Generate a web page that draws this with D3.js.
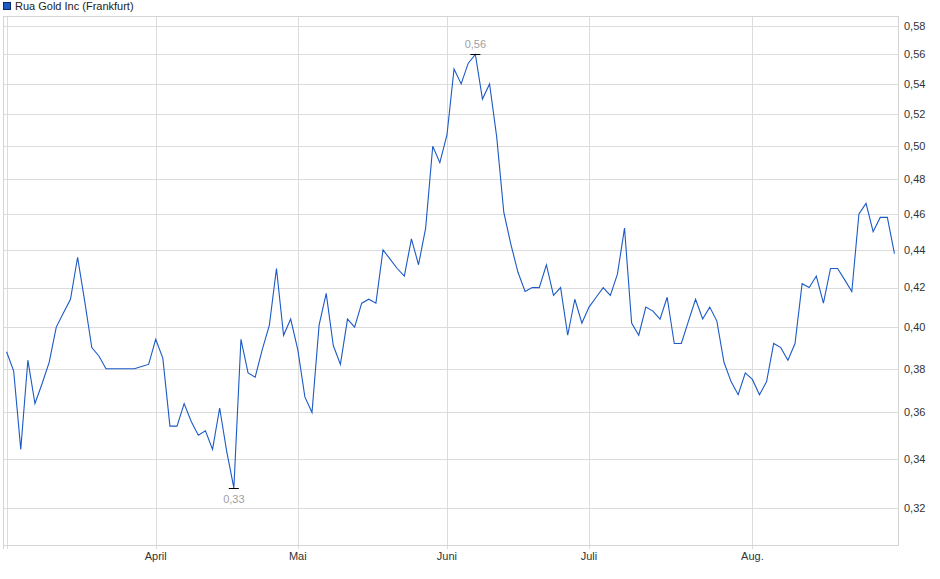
<!DOCTYPE html>
<html>
<head>
<meta charset="utf-8">
<script src="https://cdn.jsdelivr.net/npm/d3@7"></script>
<style>
  body { margin: 0; background: #fff; }
  svg { display: block; font-family: "Liberation Sans", Arial, sans-serif; }
</style>
</head>
<body>
<script>
// Rua Gold Inc, Frankfurt, daily closes (one per trading day, 03.03.2025 - 29.08.2025)
var seriesName = "Rua Gold Inc (Frankfurt)";
var firstDay = "2025-03-03", lastDay = "2025-08-29";
var holidays = ["2025-04-18", "2025-04-21", "2025-05-01", "2025-06-09"];
var monthLabels = [null, null, "März", "April", "Mai", "Juni", "Juli", "Aug.", "Sep."];
var showMonthLabel = [false, true, true, true, true, true]; // März is not labelled
var yTicks = [0.32, 0.34, 0.36, 0.38, 0.40, 0.42, 0.44, 0.46, 0.48, 0.50, 0.52, 0.54, 0.56, 0.58];

var prices = [
  0.388, 0.379, 0.344, 0.384, 0.364, 0.373, 0.383, 0.400, 0.407, 0.414,
  0.436, 0.413, 0.390, 0.386, 0.380, 0.380, 0.380, 0.380, 0.380, 0.381,
  0.382, 0.394, 0.385, 0.354, 0.354, 0.364, 0.356, 0.350, 0.352, 0.344,
  0.362, 0.343, 0.328, 0.394, 0.378, 0.376, 0.389, 0.401, 0.430, 0.396,
  0.404, 0.389, 0.367, 0.360, 0.401, 0.417, 0.391, 0.382, 0.404, 0.400,
  0.412, 0.414, 0.412, 0.440, 0.435, 0.430, 0.426, 0.446, 0.432, 0.452,
  0.500, 0.490, 0.507, 0.550, 0.540, 0.554, 0.560, 0.530, 0.540, 0.506,
  0.461, 0.443, 0.428, 0.418, 0.420, 0.420, 0.432, 0.416, 0.420, 0.396,
  0.414, 0.402, 0.410, 0.415, 0.420, 0.416, 0.427, 0.452, 0.402, 0.396,
  0.410, 0.408, 0.404, 0.415, 0.392, 0.392, 0.403, 0.414, 0.404, 0.410,
  0.403, 0.383, 0.374, 0.368, 0.378, 0.375, 0.368, 0.374, 0.392, 0.390,
  0.384, 0.392, 0.422, 0.420, 0.426, 0.412, 0.430, 0.430, 0.424, 0.418,
  0.460, 0.466, 0.450, 0.458, 0.458, 0.438
];

// trading days (weekdays without exchange holidays)
var parse = d3.utcParse("%Y-%m-%d"), fmtDay = d3.utcFormat("%Y-%m-%d");
var dates = d3.utcDay.range(parse(firstDay), d3.utcDay.offset(parse(lastDay), 1))
  .filter(function (d) { var w = d.getUTCDay(); return w !== 0 && w !== 6 && holidays.indexOf(fmtDay(d)) < 0; });

var data = prices.map(function (p, i) { return { i: i, date: dates[i], value: p }; });

var width = 940, height = 579;
var pL = 3, pR = 898, pT = 16, pB = 545;

var svg = d3.select("body").append("svg")
  .attr("width", width)
  .attr("height", height);

var x = d3.scaleLinear().domain([-0.5, data.length - 0.5]).range([pL, pR]);
var y = d3.scaleLog().domain([0.3057, 0.5872]).range([pB, pT]);

var de = d3.formatLocale({ decimal: ",", thousands: ".", grouping: [3], currency: ["", " €"] });
var fmt = de.format(".2f");

// horizontal grid
svg.append("g").selectAll("line")
  .data(yTicks)
  .enter().append("line")
  .attr("x1", pL).attr("x2", pR)
  .attr("y1", function (d) { return Math.round(y(d)) + 0.5; })
  .attr("y2", function (d) { return Math.round(y(d)) + 0.5; })
  .attr("stroke", "#dcdcdc");

// month starts = first trading day of each month
var monthStarts = data.filter(function (d, i) {
  return i === 0 || d.date.getUTCMonth() !== data[i - 1].date.getUTCMonth();
});

svg.append("g").selectAll("line")
  .data(monthStarts)
  .enter().append("line")
  .attr("x1", function (d) { return Math.round(x(d.i)) + 0.5; })
  .attr("x2", function (d) { return Math.round(x(d.i)) + 0.5; })
  .attr("y1", pT).attr("y2", pB + 4)
  .attr("stroke", "#dcdcdc");

// frame
svg.append("rect")
  .attr("x", pL + 0.5).attr("y", pT + 0.5)
  .attr("width", pR - pL).attr("height", pB - pT)
  .attr("fill", "none")
  .attr("stroke", "#d4d4d4");
svg.append("line")
  .attr("x1", pL + 0.5).attr("x2", pL + 0.5)
  .attr("y1", pB).attr("y2", pB + 4)
  .attr("stroke", "#d4d4d4");

// y labels (right)
svg.append("g").selectAll("text")
  .data(yTicks)
  .enter().append("text")
  .attr("x", pR + 6)
  .attr("y", function (d) { return y(d); })
  .attr("dy", "0.35em")
  .attr("font-size", "11px")
  .attr("fill", "#333")
  .text(function (d) { return fmt(d); });

// x labels
svg.append("g").selectAll("text")
  .data(monthStarts.filter(function (d, k) { return showMonthLabel[k]; }))
  .enter().append("text")
  .attr("x", function (d) { return x(d.i); })
  .attr("y", pB + 15)
  .attr("text-anchor", "middle")
  .attr("font-size", "11px")
  .attr("fill", "#333")
  .text(function (d) { return monthLabels[d.date.getUTCMonth()]; });

// price line
var line = d3.line()
  .x(function (d) { return x(d.i); })
  .y(function (d) { return y(d.value); });

svg.append("path")
  .datum(data)
  .attr("fill", "none")
  .attr("stroke", "#1c5ac6")
  .attr("stroke-width", 1.1)
  .attr("d", line);

// min / max markers
var lo = data[d3.minIndex(data, function (d) { return d.value; })];
var hi = data[d3.maxIndex(data, function (d) { return d.value; })];

[[lo, 1], [hi, -1]].forEach(function (m) {
  var d = m[0], dir = m[1];
  var px = x(d.i), py = Math.round(y(d.value)) + 0.5;
  svg.append("line")
    .attr("x1", px - 5).attr("x2", px + 5)
    .attr("y1", py).attr("y2", py)
    .attr("stroke", "#000")
    .attr("stroke-width", 1);
  svg.append("text")
    .attr("x", px)
    .attr("y", dir > 0 ? py + 14 : py - 6.5)
    .attr("text-anchor", "middle")
    .attr("font-size", "11px")
    .attr("fill", "#a0a0a0")
    .text(fmt(d.value));
});

// legend
svg.append("rect")
  .attr("x", 3.5).attr("y", 2.5)
  .attr("width", 7).attr("height", 7)
  .attr("fill", "#1c5ac6")
  .attr("stroke", "#0a2a66");
svg.append("text")
  .attr("x", 15).attr("y", 10)
  .attr("font-size", "11px")
  .attr("fill", "#222")
  .text(seriesName);
</script>
</body>
</html>
